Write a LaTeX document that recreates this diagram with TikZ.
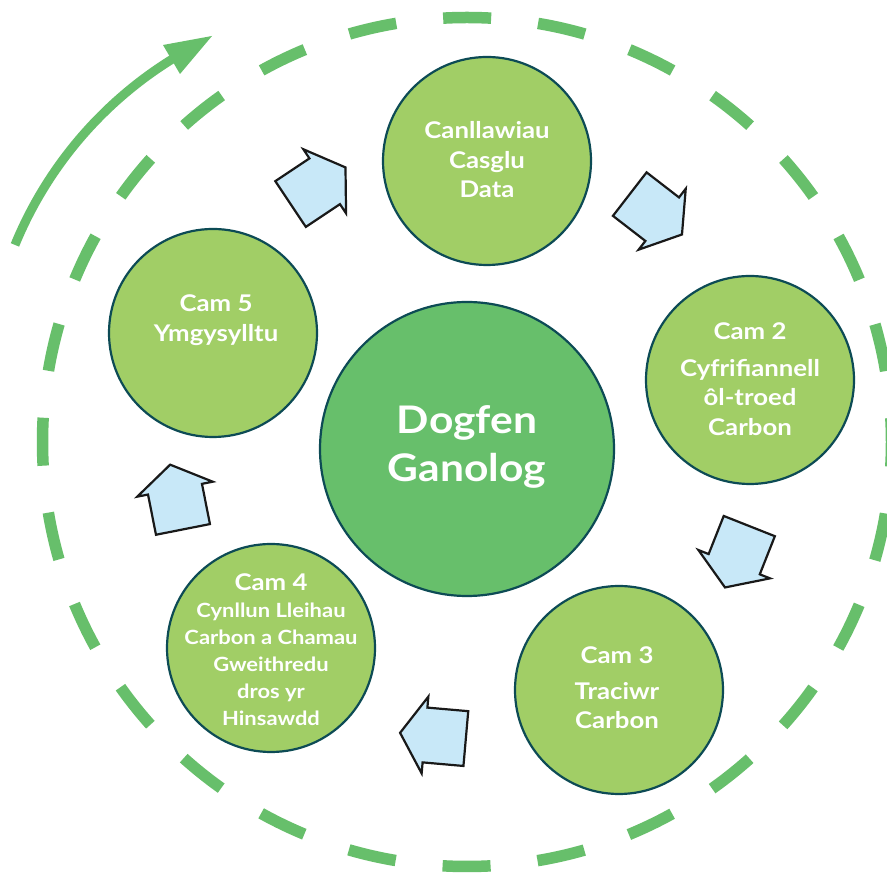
\documentclass[tikz,border=0pt]{standalone}
\usepackage{fontspec}
\setmainfont{Lato}[FakeStretch=1.12]
\usetikzlibrary{arrows.meta}
\definecolor{lightgr}{HTML}{A1CE66}
\definecolor{midgr}{HTML}{67BF6B}
\definecolor{ringcol}{HTML}{0D4B55}
\definecolor{arrblue}{HTML}{C8E8F8}
\tikzset{
  stepcircle/.style={circle, draw=ringcol, line width=2.2pt, fill=lightgr, minimum size=208pt, inner sep=0pt},
  hubcircle/.style={circle, draw=ringcol, line width=2.2pt, fill=midgr, minimum size=294pt, inner sep=0pt},
  steptext/.style={text=white, align=center, font=\bfseries\fontsize{23}{29.5}\selectfont, inner sep=0pt},
  smalltext/.style={text=white, align=center, font=\bfseries\fontsize{19.6}{27}\selectfont, inner sep=0pt},
  hubtext/.style={text=white, align=center, font=\bfseries\fontsize{38}{48}\selectfont, inner sep=0pt},
  blockarrow/.style={draw=black!90, line width=2.2pt, fill=arrblue, line join=miter},
  ring/.style={draw=midgr, line width=11.5pt, dash pattern=on 48pt off 47.25pt, dash phase=24pt},
  flowarc/.style={draw=midgr, line width=9pt}
}
\newcommand{\blockarr}[3]{%
  \draw[blockarrow, shift={(#1,#2)}, rotate=#3]
    (-41,-27.5) -- (0,-27.5) -- (0,-38.5) -- (25,0) -- (0,38.5) -- (0,27.5) -- (-41,27.5) -- cycle;}
\begin{document}
\begin{tikzpicture}[x=1pt,y=1pt]
\useasboundingbox (0,0) rectangle (887,873);
\fill[white] (0,0) rectangle (887,873);
\clip (0,0) rectangle (887,873);
% dashed ring
\coordinate (ringc) at (467,431);
\draw[ring] (ringc) circle[radius=424.5];
% curved flow arrow
\coordinate (arcc) at (380.4,478.2);
\draw[flowarc] ([shift={(157.7:395)}]arcc) arc[start angle=157.7, end angle=121.5, radius=395];
\coordinate (tipA) at (212,837);
\coordinate (barbA) at (163,828);
\coordinate (barbB) at (180,799);
\fill[midgr] (tipA) -- (barbA) -- (barbB) -- cycle;
% circles
\node[hubcircle] (hub) at (467,424) {};
\node[stepcircle] (c1) at (487,712) {};
\node[stepcircle] (c2) at (750,493) {};
\node[stepcircle] (c3) at (619,183) {};
\node[stepcircle] (c4) at (271,225) {};
\node[stepcircle] (c5) at (213,540) {};
% texts
\node[hubtext] (thub) at (467,426) {Dogfen\\Ganolog};
\node[steptext] (t1) at (487,713) {Canllawiau\\Casglu\\Data};
\node[steptext] (t2) at (750,494) {Cam 2\\[7pt]Cyfrifiannell\\ôl-troed\\Carbon};
\node[steptext] (t3) at (617,185) {Cam 3\\[6pt]Traciwr\\Carbon};
\node[smalltext] (t4) at (271,223) {{\fontsize{23}{27}\selectfont Cam 4}\\Cynllun Lleihau\\Carbon a Chamau\\Gweithredu\\dros yr\\Hinsawdd};
\node[steptext] (t5) at (216,553) {Cam 5\\Ymgysylltu};
% block arrows
\blockarr{324.7}{691.7}{33.7}
\blockarr{662.2}{653.8}{-37.7}
\blockarr{734.2}{308.8}{-111.6}
\blockarr{425}{138}{175}
\blockarr{175}{383.8}{101.2}
\end{tikzpicture}
\end{document}
